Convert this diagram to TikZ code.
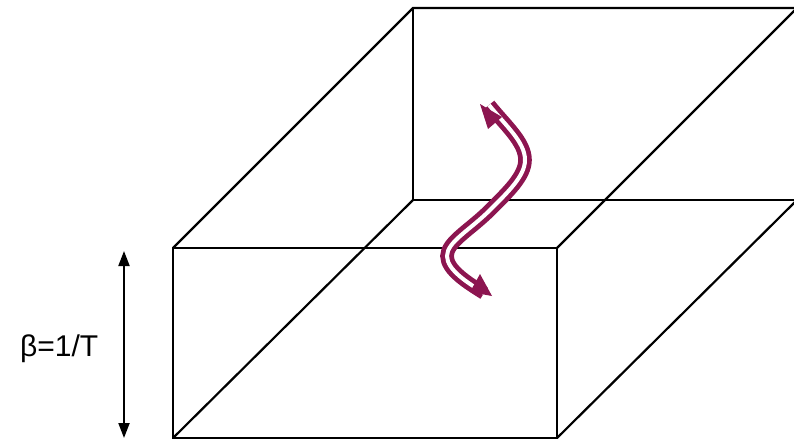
\documentclass[tikz,border=0pt]{standalone}
\usepackage{fontspec}
\setmainfont{Liberation Sans}
\usetikzlibrary{arrows.meta}
\definecolor{wave}{RGB}{140,21,80}
\tikzset{
  edge/.style={line width=2.2pt, line join=miter},
  wavyline/.style={wave, line width=4.8pt, double=white, double distance=4pt},
  wavehead/.style={fill=wave, draw=none},
  dimarrow/.style={line width=2pt, {Triangle[length=15pt,width=11pt]}-{Triangle[length=15pt,width=11pt]}},
}
\begin{document}
\begin{tikzpicture}[x=1pt,y=-1pt]
\useasboundingbox (0,0) rectangle (794,440);
\clip (0,0) rectangle (794,440);
% corners
\coordinate (FTL) at (173,248);
\coordinate (FTR) at (557,248);
\coordinate (FBR) at (557,438);
\coordinate (FBL) at (173,438);
\coordinate (BTL) at (413,8);
\coordinate (BBL) at (413,200);
\coordinate (BTR) at (797,8);
\coordinate (BBR) at (797,200);
% box
\draw[edge] (FTL) -- (FTR) -- (FBR) -- (FBL) -- cycle;
\draw[edge] (FTL) -- (BTL) -- (BTR);
\draw[edge] (BTL) -- (BBL) -- (BBR);
\draw[edge] (FBL) -- (BBL);
\draw[edge] (FTR) -- (BTR);
\draw[edge] (FBR) -- (BBR);
% dimension arrow
\coordinate (DA) at (124,251);
\coordinate (DB) at (124,438);
\draw[dimarrow] (DA) -- (DB);
\node[anchor=base west, inner sep=0pt, font=\fontsize{30}{36}\selectfont] (beta) at (20,356) {β=1/T};
% wavy double arrow
\coordinate (W0) at (489,105);
\coordinate (W1) at (525,160);
\coordinate (W2) at (490,210);
\coordinate (W3) at (447,256);
\coordinate (W4) at (484,293);
\draw[wavyline] (W0) .. controls (506,126) and (525,142) .. (W1)
  .. controls (525,176) and (508,192) .. (W2)
  .. controls (470,230) and (447,242) .. (W3)
  .. controls (447,270) and (468,283) .. (W4);
\fill[wavehead] (480,104) -- (488,129) -- (502,117) -- cycle;
\fill[wavehead] (492,296) -- (480,274) -- (470,292) -- cycle;
\end{tikzpicture}
\end{document}
